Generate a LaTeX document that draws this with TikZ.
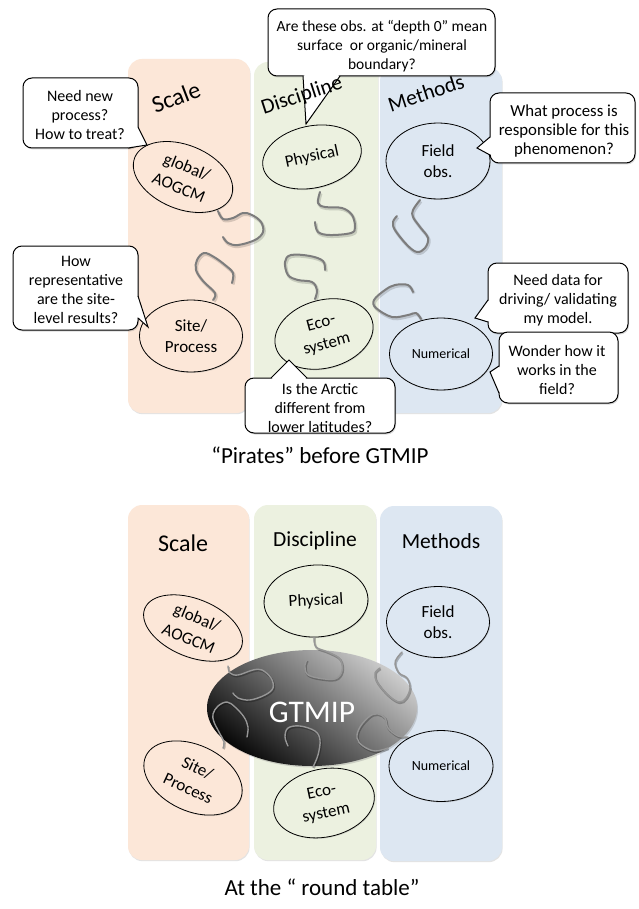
\documentclass[tikz,border=0pt]{standalone}
\usepackage{fontspec}
\setmainfont{Carlito}
\usetikzlibrary{shapes.geometric,shadows}
\definecolor{scalec}{RGB}{252,231,216}
\definecolor{discc}{RGB}{236,241,224}
\definecolor{methc}{RGB}{221,231,242}
\definecolor{squig}{RGB}{125,125,125}
\definecolor{squigb}{RGB}{150,150,150}
\tikzset{
 colbox/.style={rectangle, rounded corners=14pt, inner sep=0pt, draw=none, drop shadow={opacity=0.22, shadow xshift=0.6pt, shadow yshift=-1.2pt}},
 oval/.style={ellipse, draw=black, line width=0.8pt, inner sep=0pt, align=center, font=\fontsize{17}{20.5}\selectfont, drop shadow={opacity=0.25, shadow xshift=0.8pt, shadow yshift=-1pt}},
 bubble/.style={rectangle, rounded corners=9pt, draw=black, line width=1pt, fill=white, inner sep=0pt, drop shadow={opacity=0.3, shadow xshift=1pt, shadow yshift=-1.5pt}},
 btext/.style={align=center, font=\fontsize{16}{19}\selectfont, inner sep=0pt},
 tailfill/.style={fill=white},
 taildraw/.style={draw=black, line width=1pt, line join=miter},
 lab/.style={inner sep=0pt},
 squiggle/.style={draw=squig, line width=2pt, line cap=round, line join=round,
   preaction={draw=black, draw opacity=0.15, line width=3pt, transform canvas={shift={(1pt,-1.5pt)}}}},
 squiggleb/.style={draw=squigb, line width=1.4pt, line cap=round, line join=round,
   preaction={draw=black, draw opacity=0.25, line width=2pt, transform canvas={shift={(0.8pt,-1.2pt)}}}},
 captiontext/.style={inner sep=0pt, font=\fontsize{23}{27}\selectfont},
}
\begin{document}
\begin{tikzpicture}[x=1pt,y=-1pt]
\useasboundingbox (0,0) rectangle (638,909);
\fill[white] (0,0) rectangle (638,909);

% ===================== TOP PANEL =====================
\node[colbox, fill=scalec, minimum width=122pt, minimum height=354pt] (colST) at (189,236) {};
\node[colbox, fill=discc, minimum width=124pt, minimum height=351pt] (colDT) at (316,237.5) {};
\node[colbox, fill=methc, minimum width=122pt, minimum height=346pt] (colMT) at (441,240) {};

\node[lab, font=\fontsize{24}{28}\selectfont, rotate=21] (labST) at (176,97) {Scale};
\node[lab, font=\fontsize{21.5}{26}\selectfont, rotate=18] (labMT) at (426,93) {Methods};

% squiggles (top)
\draw[squiggle] plot[smooth, tension=0.6] coordinates {(218,211) (223,219) (233,218) (243,213) (252,215) (261,222) (263,232) (255,240) (238,245) (228,243) (223,237)};
\draw[squiggle] plot[smooth, tension=0.6] coordinates {(213,300) (215,293) (203,281) (196,270) (197,260) (204,253) (214,257) (225,265) (233,273) (232,283)};
\draw[squiggle] plot[smooth, tension=0.6] coordinates {(325,270) (323,261) (310,256) (291,255) (285,262) (288,275) (298,280) (312,282) (317,290) (315,299)};
\draw[squiggle] plot[smooth, tension=0.6] coordinates {(320,192) (318,203) (325,207) (342,208) (352,215) (355,227) (351,233) (330,235) (318,232) (315,222)};
\draw[squiggle] plot[smooth, tension=0.6] coordinates {(420,200) (413,210) (413,217) (420,227) (428,238) (425,248) (417,252) (407,245) (395,230) (393,222) (397,216)};
\draw[squiggle] plot[smooth, tension=0.6] coordinates {(421,319) (416,313) (408,315) (392,317) (376,308) (374,300) (385,290) (395,285) (408,285) (413,292)};

% ellipses (top)
\node[oval, fill=scalec, minimum width=104pt, minimum height=64pt, rotate=-22, font=\fontsize{17}{22}\selectfont] (aogcmT) at (183,177) {global/\\AOGCM};
\node[oval, fill=discc, minimum width=100pt, minimum height=62pt, rotate=12] (physT) at (312,157) {Physical};
\node[oval, fill=methc, minimum width=104pt, minimum height=76pt] (fieldT) at (438,161) {Field\\obs.};
\node[oval, fill=scalec, minimum width=103pt, minimum height=72pt] (siteT) at (191,336) {Site/\\Process};
\node[oval, fill=discc, minimum width=100pt, minimum height=68pt, rotate=15, font=\fontsize{17}{22}\selectfont] (ecoT) at (324,334) {Eco-\\system};
\node[oval, fill=methc, minimum width=103pt, minimum height=72pt, font=\fontsize{14}{17}\selectfont] (numT) at (441,354) {Numerical};

% bubbles
\node[bubble, minimum width=115pt, minimum height=70pt] (b1) at (80.5,113) {};
\fill[tailfill] (138,127) -- (147,145) -- (128,148) -- (128,130) -- cycle;
\draw[taildraw] (138,127) -- (147,145) -- (128,148);
\node[btext] (t1) at (80,115) {Need new\\process?\\How to treat?};

\node[bubble, minimum width=227pt, minimum height=67pt] (b2) at (381.5,42.5) {};
\fill[tailfill] (303,76) -- (306,124) -- (340,76) -- (320,68) -- cycle;
\draw[taildraw] (303,76) -- (306,124) -- (340,76);
\node[btext, font=\fontsize{15.5}{19}\selectfont] (t2) at (382,46) {Are these obs. at “depth 0” mean\\surface\ \ or organic/mineral\\boundary?};

\node[lab, font=\fontsize{21.5}{26}\selectfont, rotate=18] (labDT) at (302,96) {Discipline};

\node[bubble, minimum width=145pt, minimum height=70pt] (b3) at (562.5,128) {};
\fill[tailfill] (490,137) -- (477,148) -- (490,155) -- (498,146) -- cycle;
\draw[taildraw] (490,137) -- (477,148) -- (490,155);
\node[btext, font=\fontsize{16.8}{19}\selectfont] (t3) at (564,131) {What process is\\responsible for this\\phenomenon?};

\node[bubble, minimum width=125pt, minimum height=84pt] (b4) at (75.5,288) {};
\fill[tailfill] (138,296) -- (148,327) -- (138,318) -- (130,307) -- cycle;
\draw[taildraw] (138,296) -- (148,327) -- (138,318);
\node[btext] (t4) at (76,290) {How\\representative\\are the site-\\level results?};

\node[bubble, minimum width=150pt, minimum height=55pt] (b5) at (320,405.5) {};
\fill[tailfill] (271,378) -- (289,360) -- (307,378) -- (289,386) -- cycle;
\draw[taildraw] (271,378) -- (289,360) -- (307,378);
\node[btext] (t5) at (320,408) {Is the Arctic\\different from\\lower latitudes?};

\node[bubble, minimum width=140pt, minimum height=70pt] (b6) at (558,298) {};
\fill[tailfill] (488,300) -- (475,318) -- (488,322) -- (496,311) -- cycle;
\draw[taildraw] (488,300) -- (475,318) -- (488,322);
\node[btext] (t6) at (558,300) {Need data for\\driving/ validating\\my model.};

\node[bubble, minimum width=119pt, minimum height=71pt] (b7) at (558.5,367.5) {};
\fill[tailfill] (499,366) -- (490,372) -- (499,393) -- (506,380) -- cycle;
\draw[taildraw] (499,366) -- (490,372) -- (499,393);
\node[btext] (t7) at (557,370) {Wonder how it\\works in the\\field?};

\node[captiontext] (capT) at (320,455) {“Pirates” before GTMIP};

% ===================== BOTTOM PANEL =====================
\node[colbox, fill=scalec, minimum width=121pt, minimum height=355pt] (colSB) at (188.5,682.5) {};
\node[colbox, fill=discc, minimum width=122pt, minimum height=355pt] (colDB) at (315,682.5) {};
\node[colbox, fill=methc, minimum width=122pt, minimum height=355pt] (colMB) at (441,683.5) {};

\node[lab, font=\fontsize{24}{28}\selectfont] (labSB) at (183,543) {Scale};
\node[lab, font=\fontsize{21.5}{26}\selectfont] (labDB) at (315,541) {Discipline};
\node[lab, font=\fontsize{21.5}{26}\selectfont] (labMB) at (441,541) {Methods};

\node[oval, fill=scalec, minimum width=104pt, minimum height=58pt, rotate=-22, font=\fontsize{17}{22.5}\selectfont] (aogcmB) at (193,628) {global/\\AOGCM};
\node[oval, fill=discc, minimum width=104pt, minimum height=72pt, rotate=3] (physB) at (316,601) {Physical};
\node[oval, fill=methc, minimum width=103pt, minimum height=71pt] (fieldB) at (438,622) {Field\\obs.};
\node[oval, fill=scalec, minimum width=104pt, minimum height=66pt, rotate=-25, font=\fontsize{17}{22.5}\selectfont] (siteB) at (193,778) {Site/\\Process};
\node[oval, fill=discc, minimum width=102pt, minimum height=68pt, rotate=12, font=\fontsize{17}{22}\selectfont] (ecoB) at (324,803) {Eco-\\system};
\node[oval, fill=methc, minimum width=104pt, minimum height=71pt, font=\fontsize{14}{17}\selectfont] (numB) at (441,766) {Numerical};

\node[ellipse, minimum width=210pt, minimum height=116pt, inner sep=0pt, top color=black!20, bottom color=black!97, shading angle=-38, drop shadow={opacity=0.3, shadow xshift=1pt, shadow yshift=-1.5pt}] (gtmip) at (312,708) {};

\draw[squiggleb] plot[smooth, tension=0.6] coordinates {(228,666) (230,673) (238,675) (253,670) (262,670) (271,678) (273,688) (265,695) (250,700) (238,698) (233,693)};
\draw[squiggleb] plot[smooth, tension=0.6] coordinates {(223,748) (224,742) (219,732) (214,722) (213,714) (218,706) (227,702) (235,707) (244,717) (248,727) (247,737)};
\draw[squiggleb] plot[smooth, tension=0.6] coordinates {(314,637) (316,647) (328,652) (340,659) (342,671) (335,679) (318,678) (307,674) (305,665) (307,660)};
\draw[squiggleb] plot[smooth, tension=0.6] coordinates {(402,652) (397,658) (395,664) (399,673) (407,678) (410,688) (406,698) (399,702) (388,695) (377,682) (375,673) (380,668)};
\draw[squiggleb] plot[smooth, tension=0.6] coordinates {(408,737) (398,736) (388,728) (385,718) (378,714) (370,716) (360,727) (357,738) (363,746) (375,751) (388,748)};
\draw[squiggleb] plot[smooth, tension=0.6] coordinates {(313,767) (318,755) (320,740) (315,731) (300,726) (288,728) (285,737) (288,746)};

\node[inner sep=0pt, text=white, font=\fontsize{31.5}{36}\selectfont] (gtext) at (312,712) {GTMIP};

\node[captiontext] (capB) at (322,887) {At the “ round table”};
\end{tikzpicture}
\end{document}
